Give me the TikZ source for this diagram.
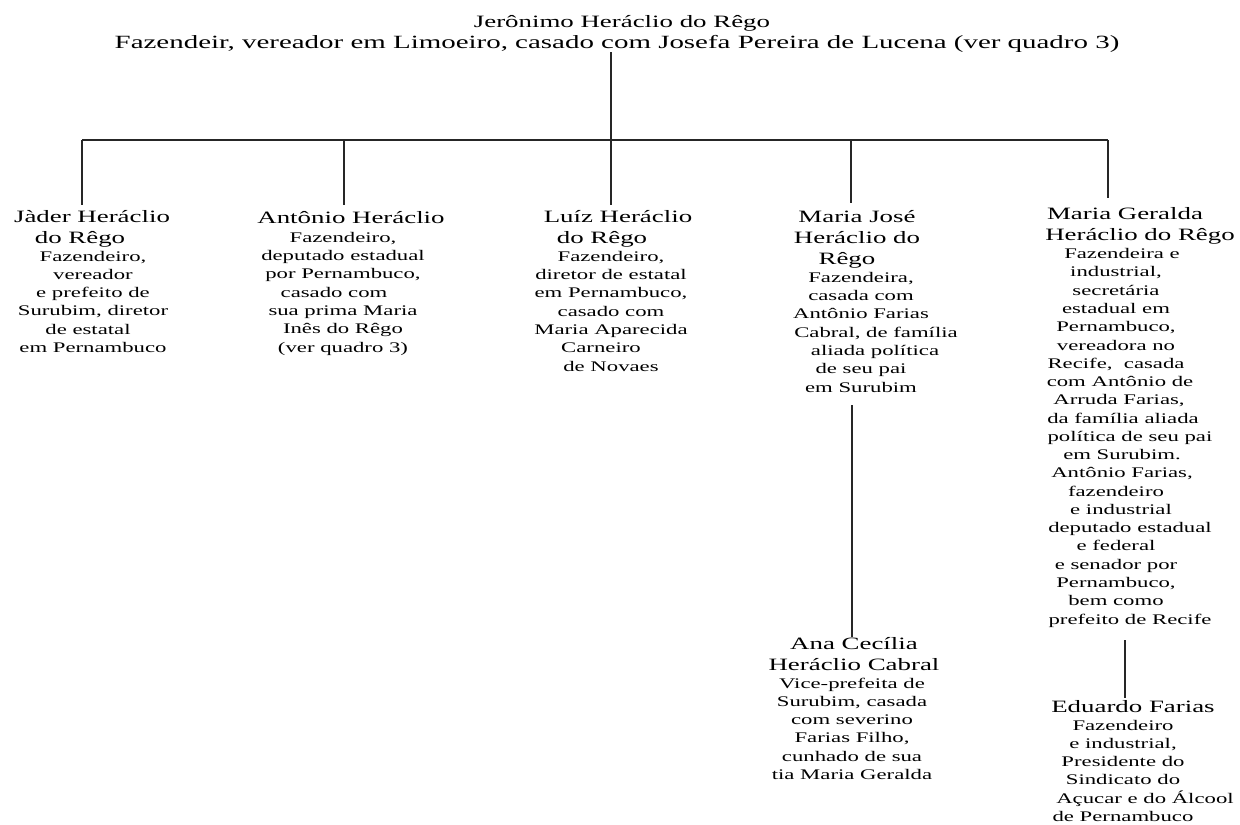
\documentclass[tikz,border=0pt]{standalone}
\usepackage{fontspec}
\setmainfont{Liberation Serif}[FakeStretch=1.55]
% nudge one centred line to the right / left by #1 picture pixels
\newcommand\rs[2]{\hspace*{\dimexpr #1pt*3/2\relax}#2}
\newcommand\ls[2]{#2\hspace*{\dimexpr #1pt*3/2\relax}\null}
\begin{document}
\begin{tikzpicture}[x=0.75pt,y=-0.75pt,
  person/.style={align=center, inner sep=0pt, anchor=base,
    font=\fontsize{13}{15.75}\selectfont},
  about/.style={align=center, inner sep=0pt, anchor=base,
    font=\fontsize{11}{13.7}\selectfont},
  rootabout/.style={align=center, inner sep=0pt, anchor=base,
    font=\fontsize{14}{16}\selectfont},
  link/.style={line width=1.1pt, draw=black!85}]
\useasboundingbox (0,0) rectangle (1240,825);

% head of the family (nodes are placed by the baseline of their last line)
\node[person] (root) at (622,27) {Jerônimo Heráclio do Rêgo};
\node[rootabout] (rootd) at (617,48) {Fazendeir, vereador em Limoeiro, casado com Josefa Pereira de Lucena (ver quadro 3)};

% children
\node[person] (jader) at (92,243) {Jàder Heráclio\\\ls{12}{do Rêgo}};
\node[about] (jaderd) at (93,352.5) {Fazendeiro,\\vereador\\e prefeito de\\Surubim, diretor\\\ls{5}{de estatal}\\em Pernambuco};

\node[person] (anton) at (351,223) {Antônio Heráclio};
\node[about] (antond) at (343,352) {Fazendeiro,\\deputado estadual\\por Pernambuco,\\\ls{9}{casado com}\\sua prima Maria\\Inês do Rêgo\\(ver quadro 3)};

\node[person] (luiz) at (618,243) {Luíz Heráclio\\\ls{16}{do Rêgo}};
\node[about] (luizd) at (611,371) {Fazendeiro,\\diretor de estatal\\em Pernambuco,\\casado com\\Maria Aparecida\\\ls{10}{Carneiro}\\de Novaes};

\node[person] (mjose) at (857,264) {Maria José\\Heráclio do\\\ls{10}{Rêgo}};
\node[about] (mjosed) at (861,392) {Fazendeira,\\casada com\\Antônio Farias\\\rs{15}{Cabral, de família}\\\rs{14}{aliada política}\\de seu pai\\em Surubim};

\node[person] (mger) at (1133,240) {\ls{8}{Maria Geralda}\\\rs{7}{Heráclio do Rêgo}};
\node[about] (mgerd) at (1116,624) {\rs{6}{Fazendeira e}\\industrial,\\secretária\\estadual em\\Pernambuco,\\vereadora no\\Recife,~ casada\\\rs{4}{com Antônio de}\\\rs{3}{Arruda Farias,}\\\rs{7}{da família aliada}\\\rs{14}{política de seu pai}\\\rs{6}{em Surubim.}\\\rs{6}{Antônio Farias,}\\fazendeiro\\\rs{5}{e industrial}\\\rs{14}{deputado estadual}\\e federal\\e senador por\\Pernambuco,\\bem como\\\rs{14}{prefeito de Recife}};

% grandchildren
\node[person] (ana) at (854,670) {Ana Cecília\\Heráclio Cabral};
\node[about] (anad) at (852,779.5) {Vice-prefeita de\\Surubim, casada\\com severino\\Farias Filho,\\cunhado de sua\\tia Maria Geralda};

\node[person] (edu) at (1133,712) {Eduardo Farias};
\node[about] (edud) at (1123,821.5) {Fazendeiro\\e industrial,\\Presidente do\\Sindicato do\\\rs{22}{Açucar e do Álcool}\\de Pernambuco};

% connectors
\coordinate (hub) at (611,140);
\coordinate (b1) at (82,140);
\coordinate (b2) at (344,140);
\coordinate (b4) at (851,140);
\coordinate (b5) at (1108,140);
\draw[link] (rootd.south -| hub) -- (hub);
\draw[link] (b1) -- (b5);
\draw[link] (b1) -- (b1 |- 0,205);
\draw[link] (b2) -- (b2 |- 0,205);
\draw[link] (hub) -- (hub |- 0,205);
\draw[link] (b4) -- (b4 |- 0,203);
\draw[link] (b5) -- (b5 |- 0,198);
\draw[link] (mjosed.south -| 852,0) ++(0,13) -- (ana.north -| 852,0);
\draw[link] (mgerd.south -| 1125,0) ++(0,13) -- ([yshift=1.5pt]edu.north -| 1125,0);
\end{tikzpicture}
\end{document}
